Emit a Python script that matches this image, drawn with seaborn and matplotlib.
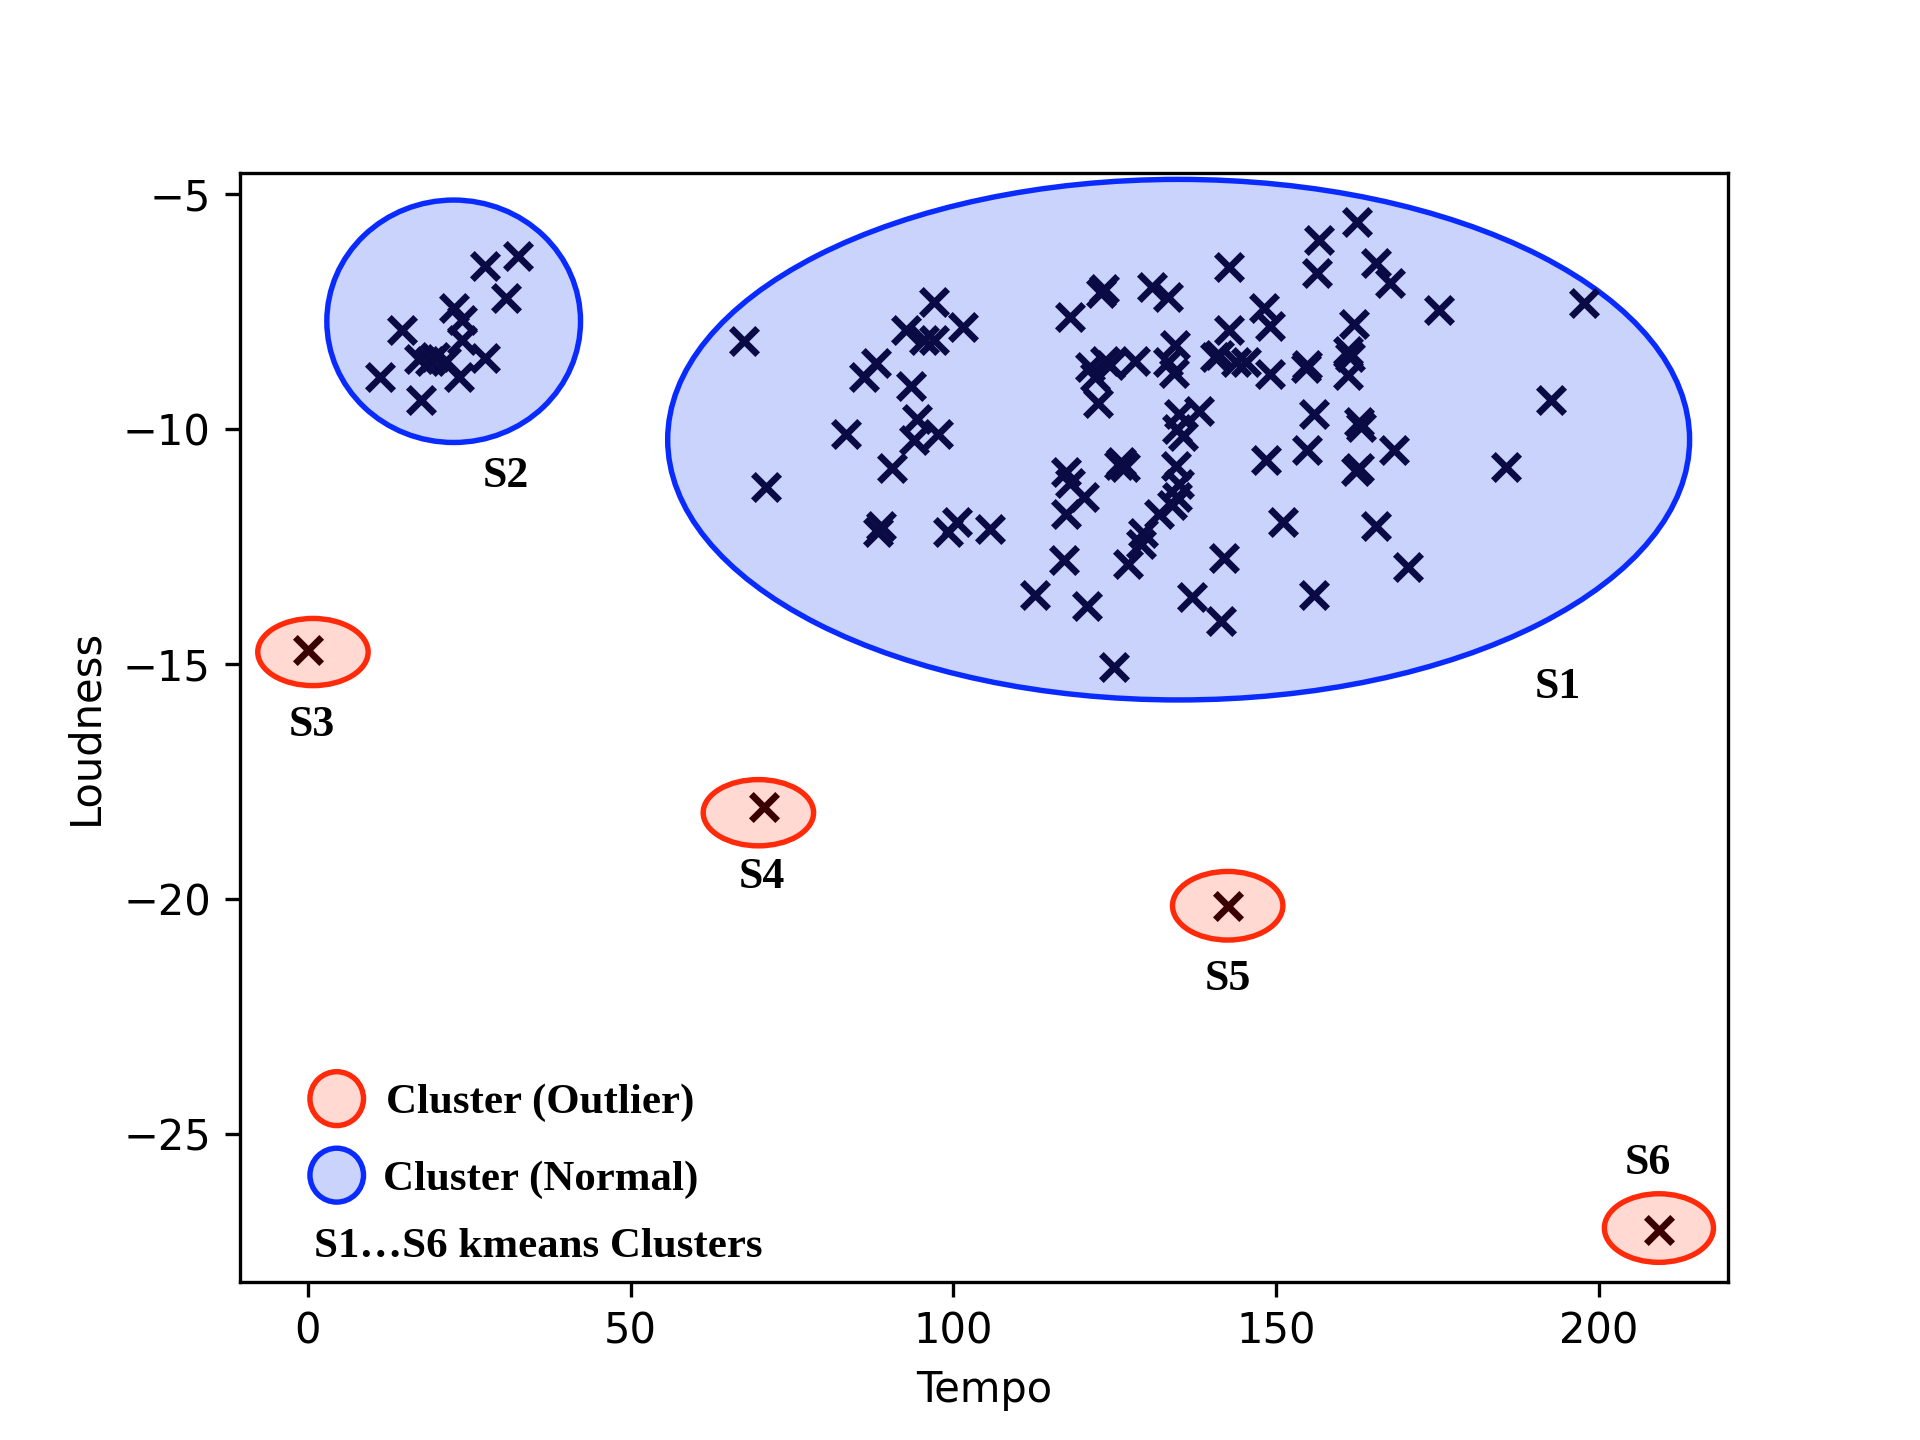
import pandas as pd
import matplotlib
matplotlib.use("Agg")
import matplotlib.pyplot as plt
from matplotlib.patches import Ellipse
import seaborn as sns

# Cluster S1 (normal) points: tempo / loudness
s1_tempo = [67.6, 71.0, 83.3, 86.1, 88.0, 90.5, 92.6, 93.5, 94.3, 93.9, 95.4, 97.0, 97.7, 97.0, 101.5,
            88.8, 88.4, 99.1, 100.6, 105.7, 112.7, 117.1, 117.5, 117.5, 118.0, 120.3, 118.0, 120.7,
            122.4, 121.1, 122.8, 123.3, 123.5, 124.3, 124.9, 125.6, 126.6, 127.1, 128.1, 129.0, 129.4,
            130.7, 131.9, 133.2, 133.8, 133.2, 134.3, 134.2, 134.5, 134.7, 134.9, 134.7, 134.9, 135.5,
            138.1, 140.6, 141.2, 142.7, 142.7, 141.9, 141.4, 137.0, 143.8, 145.4, 148.2, 149.0, 149.0,
            148.4, 151.0, 154.8, 154.8, 155.8, 156.4, 156.7, 155.8, 161.1, 161.1, 162.0, 162.6, 162.4,
            163.2, 162.8, 165.5, 165.5, 167.7, 168.3, 170.4, 175.3, 185.6, 192.6, 197.7, 154.6, 161.5,
            162.8, 122.0, 126.0]
s1_loud = [-8.13, -11.23, -10.11, -8.89, -8.60, -10.84, -7.89, -9.09, -9.80, -10.24, -8.10, -7.29, -10.11,
           -8.10, -7.84, -12.07, -12.20, -12.20, -11.99, -12.14, -13.53, -12.80, -10.92, -11.81, -11.15,
           -11.44, -7.61, -13.76, -9.46, -8.68, -7.11, -7.03, -8.55, -8.65, -15.07, -10.76, -10.81, -12.87,
           -8.55, -12.46, -12.22, -6.98, -11.81, -7.19, -11.62, -8.57, -8.21, -8.81, -10.79, -11.44, -11.18,
           -10.01, -9.69, -10.16, -9.62, -8.47, -8.42, -6.56, -7.89, -12.74, -14.10, -13.58, -8.57, -8.57,
           -7.43, -7.82, -8.83, -10.66, -11.99, -8.65, -10.45, -9.69, -6.69, -5.99, -13.53, -8.34, -8.86,
           -7.76, -5.60, -10.89, -9.95, -9.85, -6.46, -12.07, -6.90, -10.45, -12.95, -7.48, -10.81, -9.38,
           -7.32, -8.70, -8.47, -10.84, -8.90, -10.70]

# Cluster S2 (normal) points
s2_tempo = [11.2, 14.6, 17.5, 17.3, 19.7, 22.6, 23.9, 23.9, 23.5, 21.4, 27.5, 27.5, 30.7, 32.6, 19.0]
s2_loud = [-8.89, -7.89, -9.38, -8.52, -8.47, -7.43, -7.69, -8.10, -8.89, -8.55, -8.49, -6.54, -7.22, -6.33, -8.55]

# Outlier clusters S3..S6 (single points)
out_tempo = [0.0, 70.6, 142.5, 209.3]
out_loud = [-14.70, -18.04, -20.15, -27.06]

# ellipse outlines: name, center x, center y, width, height, kind, label x, label y
clusters = [
    ("S1", 134.9, -10.23, 158.3, 11.08, "normal", 193.7, -15.50),
    ("S2", 22.6, -7.71, 39.3, 5.16, "normal", 30.7, -11.00),
    ("S3", 0.8, -14.75, 17.1, 1.43, "outlier", 0.6, -16.30),
    ("S4", 69.8, -18.17, 17.1, 1.41, "outlier", 70.4, -19.53),
    ("S5", 142.5, -20.15, 17.1, 1.46, "outlier", 142.5, -21.72),
    ("S6", 209.3, -27.01, 16.9, 1.46, "outlier", 207.6, -25.62),
]

styles = {
    "normal": dict(facecolor="#c9d3fb", edgecolor="#0a2bff"),
    "outlier": dict(facecolor="#ffd9d2", edgecolor="#ff2a0a"),
}

normal_df = pd.DataFrame({"Tempo": s1_tempo + s2_tempo, "Loudness": s1_loud + s2_loud})
outlier_df = pd.DataFrame({"Tempo": out_tempo, "Loudness": out_loud})

fig, ax = plt.subplots(figsize=(6.4, 4.8), dpi=300)

for name, cx, cy, w, h, kind, lx, ly in clusters:
    ax.add_patch(Ellipse((cx, cy), w, h, lw=1.3, zorder=1, **styles[kind]))
    ax.text(lx, ly, name, fontsize=10.5, fontweight="bold", family="Liberation Serif",
            ha="center", va="center")

sns.scatterplot(data=normal_df, x="Tempo", y="Loudness", marker="x", s=40, linewidth=1.6,
                color="#0a0a45", ax=ax, zorder=3)
sns.scatterplot(data=outlier_df, x="Tempo", y="Loudness", marker="x", s=40, linewidth=1.6,
                color="#3a0000", ax=ax, zorder=3)

ax.set_xlim(-10.5, 220)
ax.set_ylim(-28.15, -4.55)
ax.set_xlabel("Tempo")
ax.set_ylabel("Loudness")

# hand-made legend
ax.add_patch(Ellipse((0.065, 0.165), 0.036, 0.0486, transform=ax.transAxes, lw=1.3, **styles["outlier"]))
ax.add_patch(Ellipse((0.065, 0.096), 0.036, 0.0486, transform=ax.transAxes, lw=1.3, **styles["normal"]))
ax.text(0.098, 0.161, "Cluster (Outlier)", transform=ax.transAxes, fontsize=10.3, fontweight="bold",
        family="Liberation Serif", va="center")
ax.text(0.096, 0.092, "Cluster (Normal)", transform=ax.transAxes, fontsize=10.3, fontweight="bold",
        family="Liberation Serif", va="center")
ax.text(0.050, 0.031, "S1\u2026S6 kmeans Clusters", transform=ax.transAxes, fontsize=10.3,
        fontweight="bold", family="Liberation Serif", va="center")

plt.savefig("out.png", dpi=300)
